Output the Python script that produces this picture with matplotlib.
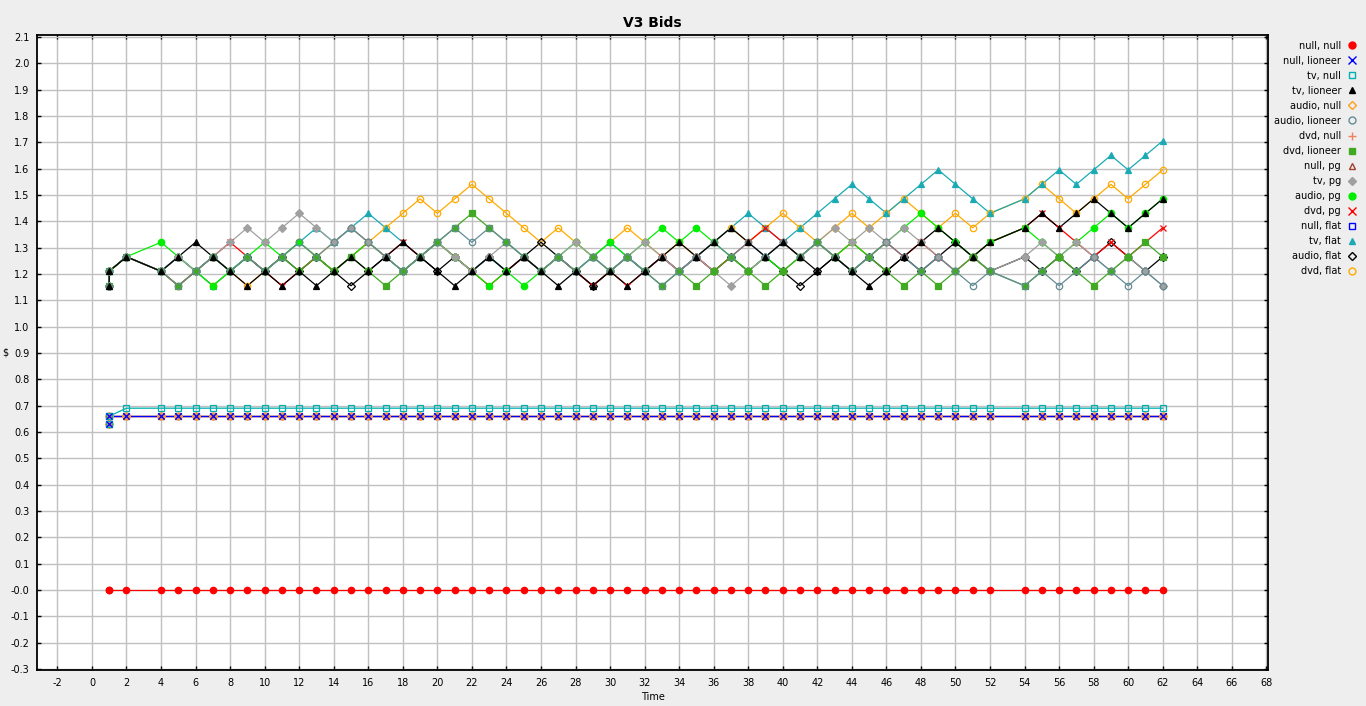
import matplotlib
matplotlib.use('Agg')
import matplotlib.pyplot as plt
from matplotlib.lines import Line2D
from matplotlib.ticker import FixedLocator, FixedFormatter

# time axis (t=1 appears twice, t=3 and t=53 are missing)
times = [1, 1, 2, 4, 5, 6, 7, 8, 9, 10,
         11, 12, 13, 14, 15, 16, 17, 18, 19, 20,
         21, 22, 23, 24, 25, 26, 27, 28, 29, 30,
         31, 32, 33, 34, 35, 36, 37, 38, 39, 40,
         41, 42, 43, 44, 45, 46, 47, 48, 49, 50,
         51, 52, 54, 55, 56, 57, 58, 59, 60, 61, 62]

null_null = [0.0] * 61
null_lioneer = [0.63] + [0.66] * 60
tv_null = [0.63, 0.66] + [0.69] * 59
audio_null = [0.63] + [0.66] * 60
dvd_null = [0.63] + [0.66] * 60
null_pg = [0.63] + [0.66] * 60
null_flat = [0.63] + [0.66] * 60

tv_lioneer = [1.155, 1.21, 1.265,
              1.21, 1.265, 1.32, 1.265, 1.21, 1.155, 1.21,
              1.155, 1.21, 1.155, 1.21, 1.265, 1.21, 1.265, 1.32, 1.265, 1.21,
              1.155, 1.21, 1.265, 1.21, 1.265, 1.21, 1.155, 1.21, 1.155, 1.21,
              1.155, 1.21, 1.265, 1.32, 1.265, 1.32, 1.375, 1.32, 1.265, 1.32,
              1.265, 1.21, 1.265, 1.21, 1.155, 1.21, 1.265, 1.32, 1.375, 1.32,
              1.265, 1.32,
              1.375, 1.43, 1.375, 1.43, 1.485, 1.43, 1.375, 1.43, 1.485]

audio_pg = [1.155, 1.21, 1.265,
            1.32, 1.265, 1.21, 1.155, 1.21, 1.265, 1.32,
            1.265, 1.32, 1.265, 1.21, 1.265, 1.32, 1.265, 1.21, 1.265, 1.32,
            1.265, 1.21, 1.155, 1.21, 1.155, 1.21, 1.265, 1.32, 1.265, 1.32,
            1.265, 1.32, 1.375, 1.32, 1.375, 1.32, 1.265, 1.21, 1.265, 1.21,
            1.265, 1.32, 1.265, 1.32, 1.265, 1.32, 1.375, 1.43, 1.375, 1.32,
            1.265, 1.32,
            1.375, 1.32, 1.265, 1.32, 1.375, 1.43, 1.375, 1.43, 1.485]

dvd_pg = [1.155, 1.21, 1.265,
          1.21, 1.155, 1.21, 1.265, 1.32, 1.265, 1.21,
          1.155, 1.21, 1.265, 1.21, 1.265, 1.32, 1.265, 1.32, 1.265, 1.32,
          1.265, 1.21, 1.155, 1.21, 1.265, 1.21, 1.265, 1.21, 1.155, 1.21,
          1.155, 1.21, 1.265, 1.21, 1.265, 1.21, 1.265, 1.32, 1.375, 1.32,
          1.265, 1.32, 1.265, 1.32, 1.265, 1.32, 1.265, 1.32, 1.265, 1.21,
          1.265, 1.32,
          1.375, 1.43, 1.375, 1.32, 1.265, 1.32, 1.265, 1.32, 1.375]

tv_pg = [1.155, 1.21, 1.265,
         1.21, 1.265, 1.21, 1.265, 1.32, 1.375, 1.32,
         1.375, 1.43, 1.375, 1.32, 1.375, 1.32, 1.265, 1.21, 1.265, 1.32,
         1.265, 1.21, 1.265, 1.32, 1.265, 1.21, 1.265, 1.32, 1.265, 1.21,
         1.265, 1.32, 1.265, 1.21, 1.265, 1.21, 1.155, 1.21, 1.265, 1.32,
         1.265, 1.32, 1.375, 1.32, 1.375, 1.32, 1.375, 1.32, 1.265, 1.21,
         1.265, 1.21,
         1.265, 1.32, 1.265, 1.32, 1.265, 1.21, 1.265, 1.21, 1.155]

tv_flat = [1.155, 1.21, 1.265,
           1.21, 1.265, 1.21, 1.155, 1.21, 1.265, 1.21,
           1.265, 1.32, 1.375, 1.32, 1.375, 1.43, 1.375, 1.32, 1.265, 1.32,
           1.265, 1.21, 1.265, 1.21, 1.265, 1.21, 1.265, 1.21, 1.265, 1.32,
           1.265, 1.21, 1.265, 1.21, 1.265, 1.32, 1.375, 1.43, 1.375, 1.32,
           1.375, 1.43, 1.485, 1.54, 1.485, 1.43, 1.485, 1.54, 1.595, 1.54,
           1.485, 1.43,
           1.485, 1.54, 1.595, 1.54, 1.595, 1.65, 1.595, 1.65, 1.705]

dvd_flat = [1.155, 1.21, 1.265,
            1.21, 1.155, 1.21, 1.155, 1.21, 1.155, 1.21,
            1.265, 1.32, 1.265, 1.32, 1.375, 1.32, 1.375, 1.43, 1.485, 1.43,
            1.485, 1.54, 1.485, 1.43, 1.375, 1.32, 1.375, 1.32, 1.265, 1.32,
            1.375, 1.32, 1.265, 1.32, 1.265, 1.32, 1.375, 1.32, 1.375, 1.43,
            1.375, 1.32, 1.375, 1.43, 1.375, 1.43, 1.485, 1.43, 1.375, 1.43,
            1.375, 1.43,
            1.485, 1.54, 1.485, 1.43, 1.485, 1.54, 1.485, 1.54, 1.595]

audio_flat = [1.155, 1.21, 1.265,
              1.21, 1.265, 1.21, 1.265, 1.21, 1.265, 1.21,
              1.265, 1.21, 1.265, 1.21, 1.155, 1.21, 1.265, 1.21, 1.265, 1.21,
              1.265, 1.21, 1.265, 1.21, 1.265, 1.32, 1.265, 1.21, 1.155, 1.21,
              1.265, 1.21, 1.265, 1.21, 1.265, 1.21, 1.265, 1.21, 1.265, 1.21,
              1.155, 1.21, 1.265, 1.21, 1.265, 1.21, 1.265, 1.21, 1.265, 1.32,
              1.265, 1.21,
              1.265, 1.21, 1.265, 1.21, 1.265, 1.32, 1.265, 1.21, 1.265]

dvd_lioneer = [1.155, 1.21, 1.265,
               1.21, 1.155, 1.21, 1.265, 1.21, 1.265, 1.21,
               1.265, 1.21, 1.265, 1.21, 1.265, 1.21, 1.155, 1.21, 1.265, 1.32,
               1.375, 1.43, 1.375, 1.32, 1.265, 1.21, 1.265, 1.21, 1.265, 1.21,
               1.265, 1.21, 1.155, 1.21, 1.155, 1.21, 1.265, 1.21, 1.155, 1.21,
               1.265, 1.32, 1.265, 1.21, 1.265, 1.21, 1.155, 1.21, 1.155, 1.21,
               1.265, 1.21,
               1.155, 1.21, 1.265, 1.21, 1.155, 1.21, 1.265, 1.32, 1.265]

audio_lioneer = [1.155, 1.21, 1.265,
                 1.21, 1.155, 1.21, 1.265, 1.21, 1.265, 1.21,
                 1.265, 1.32, 1.265, 1.32, 1.375, 1.32, 1.265, 1.21, 1.265, 1.32,
                 1.375, 1.32, 1.375, 1.32, 1.265, 1.21, 1.265, 1.21, 1.265, 1.21,
                 1.265, 1.21, 1.155, 1.21, 1.265, 1.32, 1.265, 1.32, 1.265, 1.32,
                 1.265, 1.32, 1.265, 1.21, 1.265, 1.32, 1.265, 1.21, 1.265, 1.21,
                 1.155, 1.21,
                 1.155, 1.21, 1.155, 1.21, 1.265, 1.21, 1.155, 1.21, 1.155]

# (label, values, color, marker, hollow)
series = [
    ('null, null', null_null, '#ff0000', 'o', False),
    ('null, lioneer', null_lioneer, '#0000ff', 'x', False),
    ('tv, null', tv_null, '#00b0b0', 's', True),
    ('tv, lioneer', tv_lioneer, '#000000', '^', False),
    ('audio, null', audio_null, '#ffa020', 'D', True),
    ('audio, lioneer', audio_lioneer, '#648c96', 'o', True),
    ('dvd, null', dvd_null, '#f08060', '+', False),
    ('dvd, lioneer', dvd_lioneer, '#41aa23', 's', False),
    ('null, pg', null_pg, '#a04030', '^', True),
    ('tv, pg', tv_pg, '#a0a0a0', 'D', False),
    ('audio, pg', audio_pg, '#00ee00', 'o', False),
    ('dvd, pg', dvd_pg, '#ff0000', 'x', False),
    ('null, flat', null_flat, '#0000ff', 's', True),
    ('tv, flat', tv_flat, '#1aaab4', '^', False),
    ('audio, flat', audio_flat, '#000000', 'D', True),
    ('dvd, flat', dvd_flat, '#ffaa00', 'o', True),
]

fig = plt.figure(figsize=(13.66, 7.06), dpi=100, facecolor='#eeeeee')
ax = fig.add_axes([0.0271, 0.051, 0.9012, 0.8994])
ax.set_facecolor('white')

def msize(m):
    return {'o': 4.6, 's': 4.4, '^': 4.6, 'D': 3.6, 'x': 5.0, '+': 6.0}[m]

# lines first, then shapes; series 0 ends up on top
for name, vals, col, mk, hollow in reversed(series):
    ax.plot(times, vals, color=col, lw=0.9, zorder=2)
for name, vals, col, mk, hollow in reversed(series):
    ax.plot(times, vals, ls='none', marker=mk, ms=msize(mk),
            mfc='none' if hollow else col, mec=col, mew=0.9, zorder=3)

ax.set_xlim(-3.18, 68.1)
ax.set_ylim(-0.304, 2.107)

xt = list(range(-2, 69, 2))
ax.xaxis.set_major_locator(FixedLocator(xt))
ax.xaxis.set_major_formatter(FixedFormatter([str(v) for v in xt]))
yt = [-0.3, -0.2, -0.1, 0.0, 0.1, 0.2, 0.3, 0.4, 0.5, 0.6, 0.7, 0.8, 0.9,
      1.0, 1.1, 1.2, 1.3, 1.4, 1.5, 1.6, 1.7, 1.8, 1.9, 2.0, 2.1]
ylabels = ['-0.3', '-0.2', '-0.1', '-0.0', '0.1', '0.2', '0.3', '0.4', '0.5',
           '0.6', '0.7', '0.8', '0.9', '1.0', '1.1', '1.2', '1.3', '1.4',
           '1.5', '1.6', '1.7', '1.8', '1.9', '2.0', '2.1']
ax.yaxis.set_major_locator(FixedLocator(yt))
ax.yaxis.set_major_formatter(FixedFormatter(ylabels))

ax.grid(True, color='#c0c0c0', lw=1.0, zorder=0)
ax.set_axisbelow(True)
ax.tick_params(direction='in', length=3, width=1, top=True, right=True,
               labelsize=7, pad=5.5)
for sp in ax.spines.values():
    sp.set_linewidth(1.3)

ax.set_title('V3 Bids', fontsize=10, fontweight='bold', pad=6)
ax.set_xlabel('Time', fontsize=7, labelpad=3)
ax.set_ylabel('$', fontsize=7, rotation=0, va='center', ha='center')
ax.yaxis.set_label_coords(-0.0255, 0.5)

handles = []
for name, vals, col, mk, hollow in series:
    handles.append(Line2D([], [], ls='none', marker=mk, ms=msize(mk) + 0.4,
                          mfc='none' if hollow else col, mec=col, mew=1.0))
fig.legend(handles, [s[0] for s in series], loc='upper right',
           bbox_to_anchor=(0.996, 0.948), frameon=False, fontsize=7,
           markerfirst=False, handlelength=1.0, handletextpad=0.6,
           labelspacing=0.52, borderaxespad=0)

plt.savefig('out.png', dpi=100, facecolor=fig.get_facecolor())
